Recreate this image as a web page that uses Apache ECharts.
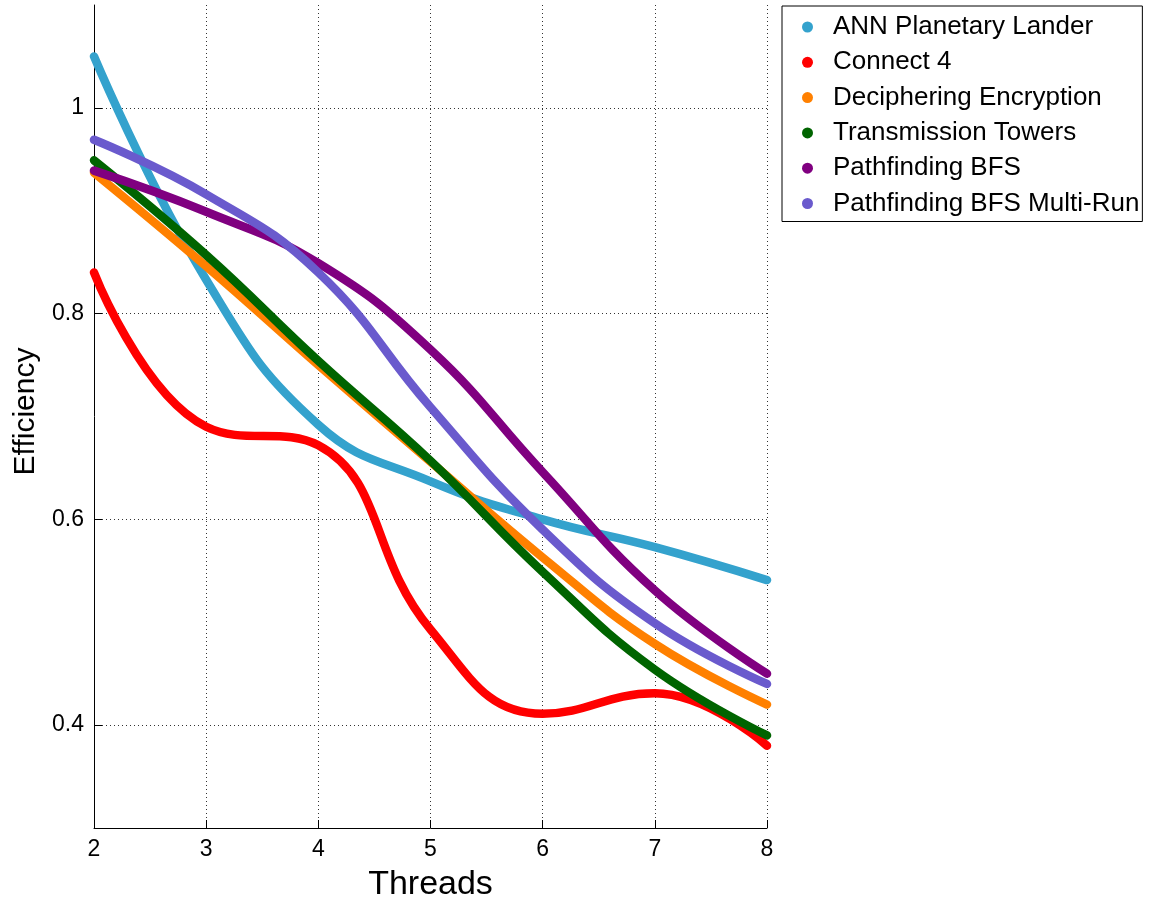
<!DOCTYPE html>
<html>
<head>
<meta charset="utf-8">
<title>Efficiency vs Threads</title>
<script src="https://cdn.jsdelivr.net/npm/echarts@6/dist/echarts.min.js"></script>
<style>
  html, body { margin: 0; padding: 0; background: #fff; }
  #chart { width: 1150px; height: 904px; }
</style>
</head>
<body>
<div id="chart"></div>
<script>
// Thread counts on the x axis
const threads = [2, 3, 4, 5, 6, 7, 8];

// Parallel efficiency per benchmark
const annPlanetaryLander   = [1.05, 0.833, 0.692, 0.637, 0.600, 0.573, 0.541];
const connect4             = [0.840, 0.690, 0.672, 0.493, 0.411, 0.431, 0.380];
const decipheringEncrypt   = [0.937, 0.846, 0.750, 0.656, 0.563, 0.479, 0.420];
const transmissionTowers   = [0.949, 0.857, 0.754, 0.657, 0.549, 0.454, 0.390];
const pathfindingBFS       = [0.939, 0.899, 0.849, 0.765, 0.646, 0.531, 0.450];
const pathfindingBFSMulti  = [0.969, 0.916, 0.840, 0.709, 0.590, 0.499, 0.440];

const seriesNames = [
  'ANN Planetary Lander',
  'Connect 4',
  'Deciphering Encryption',
  'Transmission Towers',
  'Pathfinding BFS',
  'Pathfinding BFS Multi-Run'
];
const seriesValues = [
  annPlanetaryLander, connect4, decipheringEncrypt,
  transmissionTowers, pathfindingBFS, pathfindingBFSMulti
];
const seriesColors = ['#34A2CD', '#FF0000', '#FF8000', '#006400', '#800080', '#6A5ACD'];

// Labelled y positions
const yTickValues = [0.4, 0.6, 0.8, 1.0];

const FONT = '"Liberation Sans", Arial, Helvetica, sans-serif';

const chart = echarts.init(document.getElementById('chart'), null, { renderer: 'canvas' });

const series = seriesNames.map((name, i) => ({
  name: name,
  type: 'line',
  data: threads.map((t, j) => [t, seriesValues[i][j]]),
  smooth: 0.45,
  showSymbol: false,
  symbol: 'circle',
  color: seriesColors[i],
  lineStyle: { width: 8.5, color: seriesColors[i], cap: 'round', join: 'round' },
  emphasis: { disabled: true },
  z: 2 + i
}));

chart.setOption({
  animation: false,
  backgroundColor: '#ffffff',
  textStyle: { fontFamily: FONT },
  grid: { left: 94, right: 383, top: 5, bottom: 76, containLabel: false, outerBoundsMode: 'none' },
  legend: {
    orient: 'vertical',
    left: 782,
    top: 6,
    data: seriesNames,
    icon: 'circle',
    itemWidth: 11,
    itemHeight: 11,
    itemGap: 9.3,
    padding: [8, 3, 5, 20],
    borderColor: '#000',
    borderWidth: 1,
    selectedMode: false,
    textStyle: { fontFamily: FONT, fontSize: 26, color: '#000', lineHeight: 26, padding: [0, 0, 0, 15] }
  },
  xAxis: {
    type: 'value',
    min: 2,
    max: 8,
    interval: 1,
    name: 'Threads',
    nameLocation: 'middle',
    nameGap: 40,
    nameTextStyle: { fontFamily: FONT, fontSize: 34, color: '#000' },
    axisLine: { show: true, onZero: false, lineStyle: { color: '#000', width: 1 } },
    axisTick: { show: true, inside: true, length: 8, lineStyle: { color: '#000' } },
    axisLabel: { fontFamily: FONT, fontSize: 23, color: '#000', margin: 10 },
    splitLine: { show: true, lineStyle: { color: '#333', width: 1, type: [1, 3] } }
  },
  yAxis: {
    type: 'value',
    min: 0.3,
    max: 1.1,
    interval: 0.1,
    name: 'Efficiency',
    nameLocation: 'middle',
    nameGap: 48,
    nameTextStyle: { fontFamily: FONT, fontSize: 30, color: '#000', padding: [0, 0, 0, 10] },
    axisLine: { show: true, onZero: false, lineStyle: { color: '#000', width: 1 } },
    axisTick: { show: true, inside: true, length: 8, lineStyle: { color: '#000' }, customValues: yTickValues },
    axisLabel: {
      fontFamily: FONT, fontSize: 23, color: '#000', margin: 10,
      padding: [6, 0, 0, 0],
      customValues: yTickValues,
      formatter: v => (Math.abs(v - 1) < 1e-9 ? '1' : String(Math.round(v * 10) / 10))
    },
    splitLine: { show: true, lineStyle: { color: '#333', width: 1, type: [1, 3] } }
  },
  series: series
});
</script>
</body>
</html>
